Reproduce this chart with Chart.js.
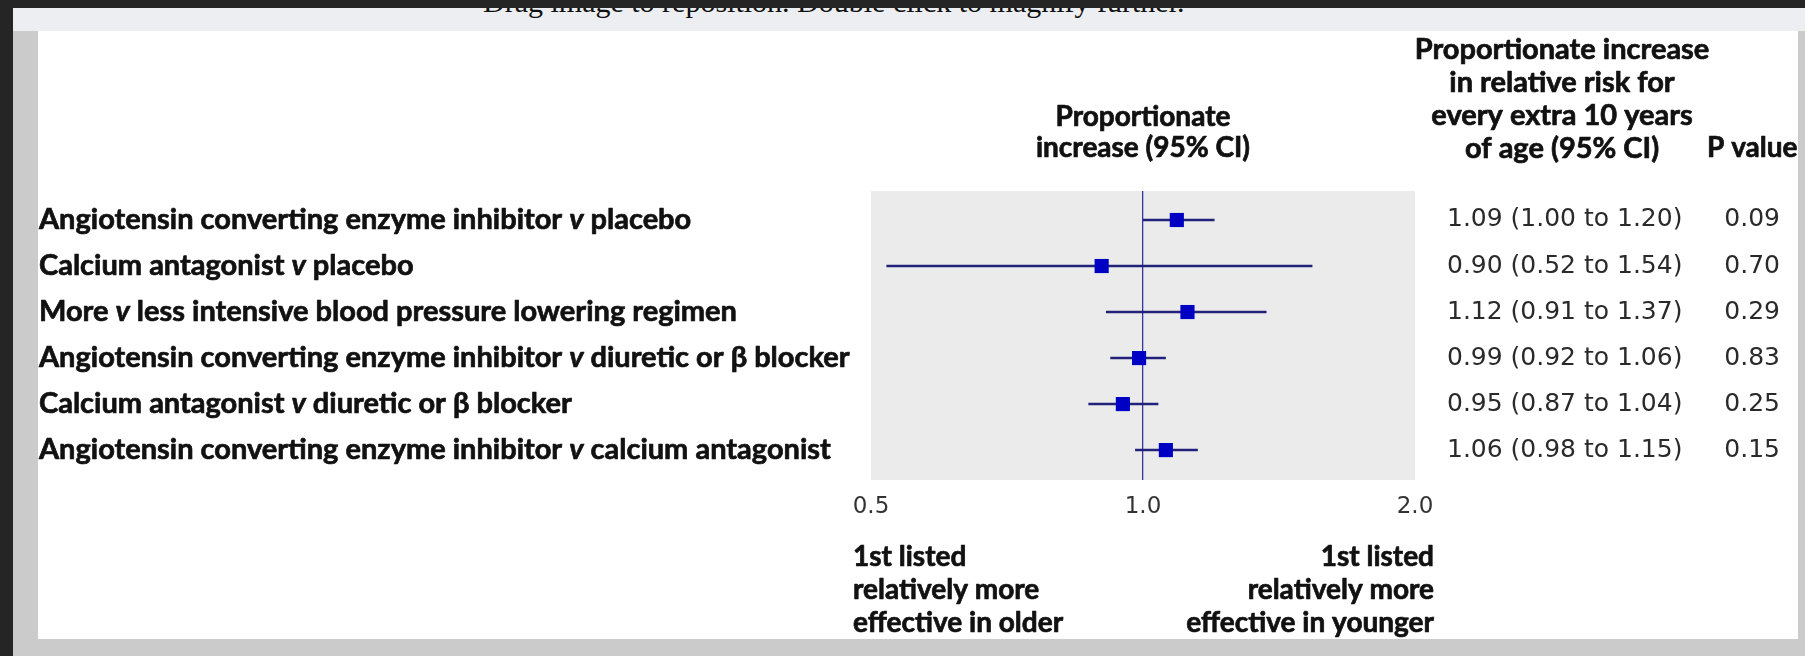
<!DOCTYPE html>
<html>
<head>
<meta charset="utf-8">
<script src="https://cdn.jsdelivr.net/npm/chart.js@4.4.1/dist/chart.umd.min.js"></script>
<style>
  html, body { margin: 0; padding: 0; }
  body { width: 1805px; height: 656px; background: #252525; position: relative; overflow: hidden; }
  #band { position: absolute; left: 13px; top: 8px; width: 1792px; height: 23px; background: #eceef1; overflow: hidden; }
  #band span { position: absolute; left: 470px; top: -23px; font: 30px/34px "Liberation Serif", serif; color: #111; white-space: nowrap; }
  #frame { position: absolute; left: 13px; top: 31px; width: 1792px; height: 625px; background: #cbcbcb; }
  #wrap { position: absolute; left: 38px; top: 31px; width: 1760px; height: 608px; background: #fff; }
</style>
</head>
<body>
<div id="band"><span>Drag image to reposition. Double click to magnify further.</span></div>
<div id="frame"></div>
<div id="wrap"><canvas id="forest" width="1760" height="608"></canvas></div>
<script>
const comparisons = [
  'Angiotensin converting enzyme inhibitor v placebo',
  'Calcium antagonist v placebo',
  'More v less intensive blood pressure lowering regimen',
  'Angiotensin converting enzyme inhibitor v diuretic or \u03B2 blocker',
  'Calcium antagonist v diuretic or \u03B2 blocker',
  'Angiotensin converting enzyme inhibitor v calcium antagonist'
];
const estimate = [1.09, 0.90, 1.12, 0.99, 0.95, 1.06];
const lower = [1.00, 0.52, 0.91, 0.92, 0.87, 0.98];
const upper = [1.20, 1.54, 1.37, 1.06, 1.04, 1.15];
const pValues = ['0.09', '0.70', '0.29', '0.83', '0.25', '0.15'];
const xTicks = [0.5, 1.0, 2.0];
const midHeader = ['Proportionate', 'increase (95% CI)'];
const rightHeader = ['Proportionate increase', 'in relative risk for', 'every extra 10 years', 'of age (95% CI)'];
const leftNote = ['1st listed', 'relatively more', 'effective in older'];
const rightNote = ['1st listed', 'relatively more', 'effective in younger'];

const LINE = '#22227c';
const SQUARE = '#0000c4';
const NUM = '25px "DejaVu Sans"';
const bold = size => `bold ${size}px Lato`;

// bold text with a thin outline so it reads as heavy as the original
function heavy(ctx, text, x, y) {
  ctx.fillText(text, x, y);
  ctx.strokeText(text, x, y);
}

const forestText = {
  id: 'forestText',
  beforeDraw(chart) {
    const a = chart.chartArea, ctx = chart.ctx;
    ctx.save();
    ctx.fillStyle = '#ebebeb';
    ctx.fillRect(a.left, a.top, a.right - a.left, a.bottom - a.top);
    ctx.restore();
  },
  afterDraw(chart) {
    const a = chart.chartArea, ctx = chart.ctx, ys = chart.scales.y;
    ctx.save();
    ctx.textBaseline = 'middle';
    ctx.strokeStyle = '#111';
    ctx.lineWidth = 0.7;
    ctx.lineJoin = 'round';

    // row labels, with italic v
    comparisons.forEach((label, i) => {
      const py = ys.getPixelForValue(i);
      const parts = label.split(' v ');
      let px = 1;
      ctx.fillStyle = '#111';
      ctx.textAlign = 'left';
      ctx.font = bold(29);
      heavy(ctx, parts[0] + ' ', px, py);
      px += ctx.measureText(parts[0] + ' ').width;
      ctx.font = 'italic ' + bold(29);
      heavy(ctx, 'v', px, py);
      px += ctx.measureText('v').width;
      ctx.font = bold(29);
      heavy(ctx, ' ' + parts[1], px, py);

      ctx.font = NUM;
      ctx.fillStyle = '#2a2a2a';
      ctx.fillText(`${estimate[i].toFixed(2)} (${lower[i].toFixed(2)} to ${upper[i].toFixed(2)})`, a.right + 32, py);
      ctx.textAlign = 'right';
      ctx.fillText(pValues[i], 1742, py);
    });

    ctx.fillStyle = '#111';
    ctx.textAlign = 'center';
    const mid = (a.left + a.right) / 2;
    ctx.font = bold(28);
    midHeader.forEach((t, k) => heavy(ctx, t, mid, a.top - 74 + k * 31));
    ctx.font = bold(29);
    rightHeader.forEach((t, k) => heavy(ctx, t, 1524, a.top - 141 + k * 33));
    ctx.textAlign = 'left';
    ctx.font = bold(28);
    heavy(ctx, 'P value', 1669, a.top - 43);

    leftNote.forEach((t, k) => heavy(ctx, t, a.left - 18, a.bottom + 77 + k * 33));
    ctx.textAlign = 'right';
    rightNote.forEach((t, k) => heavy(ctx, t, a.right + 19, a.bottom + 77 + k * 33));
    ctx.restore();
  }
};

const ciSets = comparisons.map((c, i) => ({
  type: 'line',
  data: [{ x: lower[i], y: i }, { x: upper[i], y: i }],
  borderColor: LINE,
  borderWidth: 2.5,
  pointRadius: 0,
  order: 2
}));

new Chart(document.getElementById('forest'), {
  type: 'scatter',
  data: {
    datasets: [...ciSets, {
      data: estimate.map((v, i) => ({ x: v, y: i })),
      pointStyle: 'rect',
      pointRadius: 10,
      backgroundColor: SQUARE,
      borderWidth: 0,
      order: 1
    }]
  },
  options: {
    responsive: false,
    animation: false,
    devicePixelRatio: 1,
    layout: { padding: { left: 833, right: 383, top: 160, bottom: 119 } },
    plugins: { legend: { display: false }, tooltip: { enabled: false } },
    scales: {
      x: {
        type: 'logarithmic',
        min: 0.5,
        max: 2,
        afterBuildTicks: s => { s.ticks = xTicks.map(v => ({ value: v })); },
        afterFit: s => { s.height = 40; },
        ticks: {
          callback: v => Number(v).toFixed(1),
          font: { family: 'DejaVu Sans', size: 23 },
          color: '#333',
          padding: 13,
          autoSkip: false,
          maxRotation: 0
        },
        grid: {
          color: c => (c.tick && c.tick.value === 1 ? '#3535a4' : 'rgba(0,0,0,0)'),
          drawTicks: false,
          lineWidth: 1.3
        },
        border: { display: false }
      },
      y: { type: 'linear', reverse: true, min: -0.63, max: 5.65, display: false }
    }
  },
  plugins: [forestText]
});
</script>
</body>
</html>
